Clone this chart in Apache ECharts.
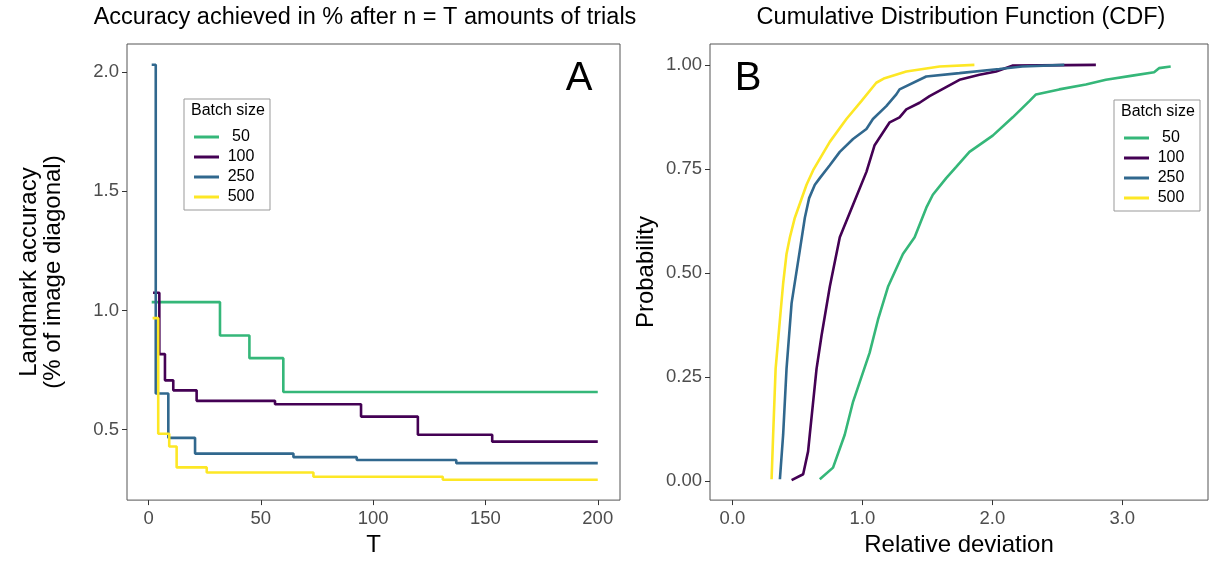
<!DOCTYPE html>
<html>
<head>
<meta charset="utf-8">
<script src="https://cdn.jsdelivr.net/npm/echarts@6/dist/echarts.min.js"></script>
<style>
html,body{margin:0;padding:0;background:#fff;}
#chart{width:1210px;height:562px;}
</style>
</head>
<body>
<div id="chart"></div>
<script>
// ---------- data ----------
const batchSizes = ['50', '100', '250', '500'];

// Panel A: accuracy step lines (T where a level starts, level value)
const a50_T   = [1.4, 31.8, 44.9, 60, 200];
const a50_acc = [1.035, 0.895, 0.80, 0.658, 0.658];
const a100_T   = [2, 4.8, 7.3, 11, 21.4, 56.3, 94.6, 119.9, 153, 200];
const a100_acc = [1.074, 0.817, 0.707, 0.665, 0.621, 0.607, 0.555, 0.479, 0.45, 0.45];
const a250_T   = [1.4, 3.2, 8.8, 20.7, 64.5, 92.7, 137, 200];
const a250_acc = [2.03, 0.652, 0.466, 0.40, 0.385, 0.373, 0.36, 0.36];
const a500_T   = [1.8, 4.3, 9.2, 12.5, 25.9, 73.4, 131, 200];
const a500_acc = [0.968, 0.483, 0.43, 0.342, 0.321, 0.303, 0.29, 0.29];

// Panel B: CDF curves (relative deviation, probability)
const b50_x = [0.672, 0.774, 0.864, 0.928, 1.056, 1.120, 1.197, 1.312, 1.402, 1.492, 1.542, 1.645, 1.722, 1.824, 2.003, 2.157, 2.285, 2.336, 2.515, 2.720, 2.874, 3.078, 3.245, 3.283, 3.373];
const b50_p = [0.005, 0.033, 0.112, 0.191, 0.309, 0.388, 0.467, 0.546, 0.586, 0.657, 0.688, 0.728, 0.755, 0.791, 0.830, 0.874, 0.913, 0.929, 0.941, 0.953, 0.964, 0.974, 0.982, 0.992, 0.996];
const b100_x = [0.455, 0.544, 0.582, 0.595, 0.647, 0.685, 0.749, 0.826, 0.928, 1.031, 1.094, 1.210, 1.286, 1.338, 1.440, 1.517, 1.747, 1.901, 2.029, 2.154, 2.797];
const b100_p = [0.003, 0.017, 0.072, 0.112, 0.270, 0.349, 0.467, 0.586, 0.664, 0.743, 0.807, 0.862, 0.874, 0.893, 0.909, 0.925, 0.964, 0.976, 0.984, 0.998, 1.000];
const b250_x = [0.365, 0.390, 0.416, 0.455, 0.518, 0.557, 0.590, 0.634, 0.672, 0.749, 0.826, 0.928, 1.031, 1.081, 1.184, 1.261, 1.286, 1.491, 1.747, 2.054, 2.231, 2.554];
const b250_p = [0.005, 0.112, 0.270, 0.428, 0.554, 0.633, 0.680, 0.712, 0.728, 0.759, 0.791, 0.822, 0.846, 0.870, 0.901, 0.929, 0.941, 0.972, 0.980, 0.990, 0.996, 1.000];
const b500_x = [0.301, 0.313, 0.332, 0.365, 0.390, 0.416, 0.442, 0.480, 0.570, 0.621, 0.749, 0.877, 0.992, 1.107, 1.171, 1.338, 1.594, 1.862];
const b500_p = [0.005, 0.112, 0.270, 0.388, 0.475, 0.546, 0.586, 0.633, 0.712, 0.747, 0.815, 0.870, 0.913, 0.957, 0.968, 0.984, 0.996, 1.000];

// tick labels
const ticksAx = [0, 50, 100, 150, 200];
const ticksAy = [0.5, 1.0, 1.5, 2.0];
const ticksBx = [0, 1, 2, 3];
const ticksBy = [0, 0.25, 0.5, 0.75, 1.0];

// texts
const titleA = 'Accuracy achieved in % after n = T amounts of trials';
const titleB = 'Cumulative Distribution Function (CDF)';
const xNameA = 'T';
const yNameA = 'Landmark accuracy\n(% of image diagonal)';
const xNameB = 'Relative deviation';
const yNameB = 'Probability';
const legendTitle = 'Batch size';

// ---------- chart ----------
const FONT = 'Liberation Sans, Arial, Helvetica, sans-serif';
const colors = {'50': '#35B779', '100': '#440154', '250': '#31688E', '500': '#FDE725'};
const zip = (xs, ys) => xs.map((x, i) => [x, ys[i]]);

const seriesA = [[a50_T, a50_acc], [a100_T, a100_acc], [a250_T, a250_acc], [a500_T, a500_acc]];
const seriesB = [[b50_x, b50_p], [b100_x, b100_p], [b250_x, b250_p], [b500_x, b500_p]];

const series = [];
batchSizes.forEach((name, i) => {
  series.push({
    type: 'line', name: name, xAxisIndex: 0, yAxisIndex: 0,
    data: zip(seriesA[i][0], seriesA[i][1]), step: 'end',
    symbol: 'none', color: colors[name],
    lineStyle: {width: 2.6, color: colors[name]}, z: 2 + i
  });
});
batchSizes.forEach((name, i) => {
  series.push({
    type: 'line', name: name, xAxisIndex: 1, yAxisIndex: 1,
    data: zip(seriesB[i][0], seriesB[i][1]),
    symbol: 'none', color: colors[name],
    lineStyle: {width: 2.6, color: colors[name]}, z: 2 + i
  });
});

const tickLabel = {fontFamily: FONT, fontSize: 18.5, color: '#4D4D4D'};
const axisNameStyle = {fontFamily: FONT, fontSize: 24, color: '#000'};

function xAxisCfg(grid, min, max, ticks, fmt, name) {
  return {
    type: 'value', gridIndex: grid, min: min, max: max,
    name: name, nameLocation: 'middle', nameGap: 30, nameTextStyle: axisNameStyle,
    axisLine: {show: false, onZero: false},
    axisTick: {show: true, length: 5, customValues: ticks, lineStyle: {color: '#333', width: 1}},
    axisLabel: Object.assign({customValues: ticks, margin: 9, formatter: fmt}, tickLabel),
    splitLine: {show: false}
  };
}
function yAxisCfg(grid, min, max, ticks, fmt, name, gap) {
  return {
    type: 'value', gridIndex: grid, min: min, max: max,
    name: name, nameLocation: 'middle', nameGap: gap,
    nameTextStyle: Object.assign({lineHeight: 24}, axisNameStyle),
    axisLine: {show: false, onZero: false},
    axisTick: {show: true, length: 5, customValues: ticks, lineStyle: {color: '#333', width: 1}},
    axisLabel: Object.assign({customValues: ticks, margin: 8, formatter: fmt}, tickLabel),
    splitLine: {show: false}
  };
}

const legendCommon = {
  data: batchSizes, orient: 'vertical', icon: 'rect',
  itemWidth: 25, itemHeight: 3, itemGap: 0,
  padding: [28, 12, 3, 10],
  borderColor: '#999', borderWidth: 1, backgroundColor: '#fff',
  selectedMode: false,
  formatter: '{c|{name}}',
  textStyle: {
    fontFamily: FONT, fontSize: 16, color: '#000', lineHeight: 20,
    rich: {c: {fontFamily: FONT, fontSize: 16, color: '#000', width: 34, align: 'center', lineHeight: 20}}
  }
};

const titleStyle = {fontFamily: FONT, fontSize: 23.5, fontWeight: 'normal', color: '#000'};
const letterStyle = {fontFamily: FONT, fontSize: 40, fontWeight: 'normal', color: '#000'};
const legTitleStyle = {fontFamily: FONT, fontSize: 16, fontWeight: 'normal', color: '#000'};

const option = {
  animation: false,
  backgroundColor: '#fff',
  title: [
    {text: titleA, left: 360, top: 1, textAlign: 'center', textStyle: titleStyle},
    {text: titleB, left: 956, top: 1, textAlign: 'center', textStyle: titleStyle},
    {text: 'A', left: 574, top: 54, textAlign: 'center', textStyle: letterStyle},
    {text: 'B', left: 743, top: 54, textAlign: 'center', textStyle: letterStyle},
    {text: legendTitle, left: 186, top: 98, textStyle: legTitleStyle},
    {text: legendTitle, left: 1116, top: 99, textStyle: legTitleStyle}
  ],
  legend: [
    Object.assign({left: 184, top: 99}, legendCommon),
    Object.assign({left: 1114, top: 100}, legendCommon)
  ],
  grid: [
    {left: 127, top: 44, width: 493, height: 461, show: true, borderColor: '#555', borderWidth: 1, backgroundColor: 'transparent', containLabel: false},
    {left: 710, top: 44, width: 498, height: 461, show: true, borderColor: '#555', borderWidth: 1, backgroundColor: 'transparent', containLabel: false}
  ],
  xAxis: [
    xAxisCfg(0, -9.6, 209.9, ticksAx, v => String(v), xNameA),
    xAxisCfg(1, -0.173, 3.66, ticksBx, v => v.toFixed(1), xNameB)
  ],
  yAxis: [
    yAxisCfg(0, 0.205, 2.117, ticksAy, v => v.toFixed(1), yNameA, 62),
    yAxisCfg(1, -0.045, 1.05, ticksBy, v => v.toFixed(2), yNameB, 52)
  ],
  series: series
};

const chart = echarts.init(document.getElementById('chart'), null, {renderer: 'canvas'});
chart.setOption(option);
</script>
</body>
</html>
